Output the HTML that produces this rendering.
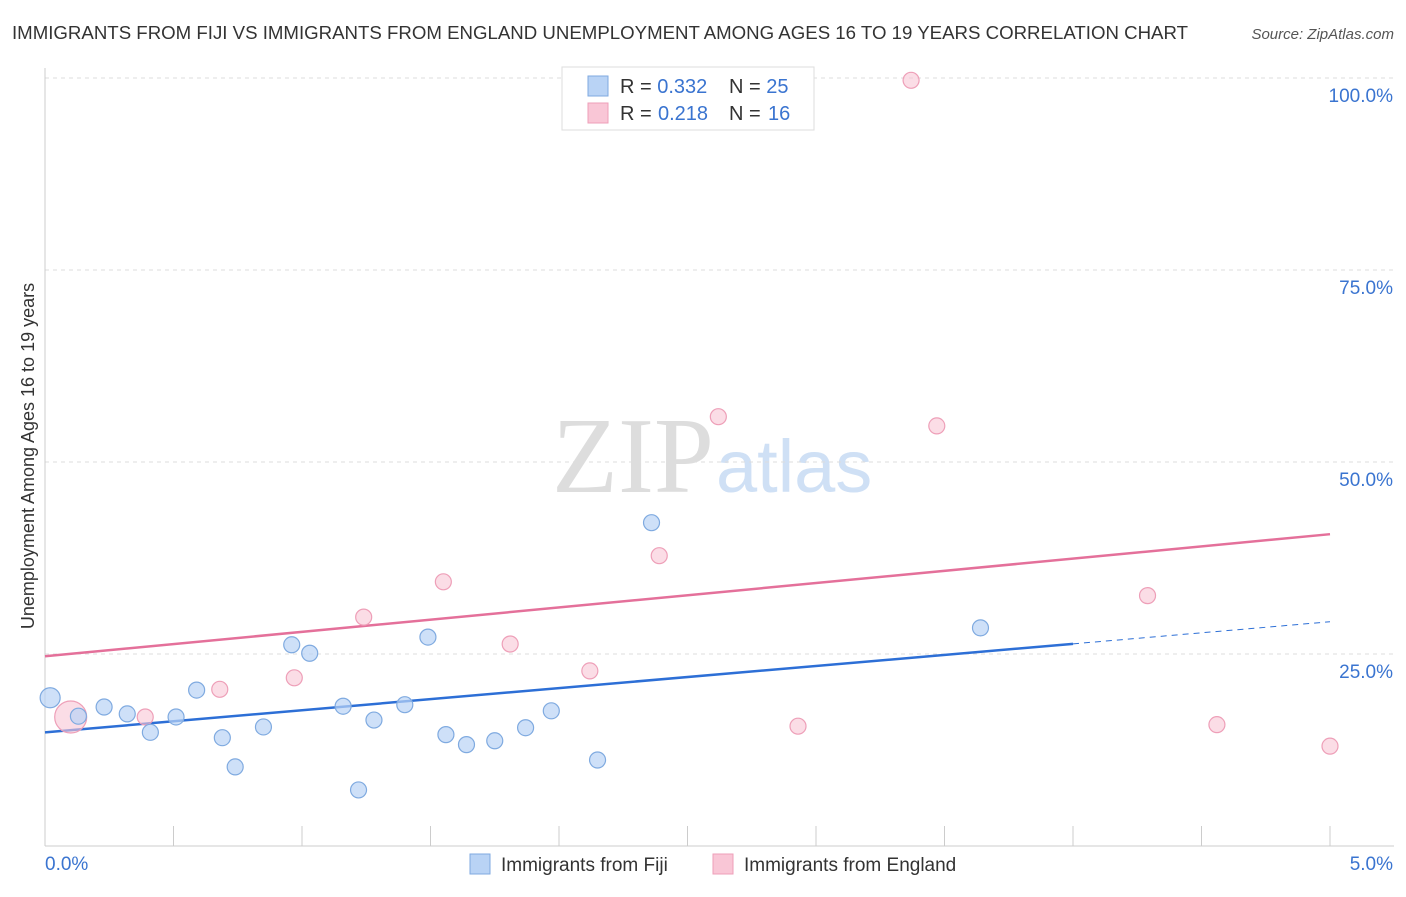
<!DOCTYPE html>
<html><head><meta charset="utf-8"><style>
body{margin:0;background:#fff;font-family:"Liberation Sans",sans-serif;}
svg text{font-family:"Liberation Sans",sans-serif;}
</style></head><body>
<svg id="chart" width="1406" height="892">
<text x="12" y="39" font-size="18" fill="#333" textLength="1176" lengthAdjust="spacingAndGlyphs">IMMIGRANTS FROM FIJI VS IMMIGRANTS FROM ENGLAND UNEMPLOYMENT AMONG AGES 16 TO 19 YEARS CORRELATION CHART</text>
<text x="1394" y="39" font-size="15" fill="#555" font-style="italic" text-anchor="end">Source: ZipAtlas.com</text>
<text x="714" y="492" font-size="108" fill="#ddd" text-anchor="end" style="font-family:'Liberation Serif',serif">ZIP</text>
<text x="716" y="492" font-size="74" fill="#cfe0f5">atlas</text>
<text transform="translate(34,456) rotate(-90)" font-size="18" fill="#333" text-anchor="middle">Unemployment Among Ages 16 to 19 years</text>
<g id="grid"></g><g id="axes"></g><g id="lines"></g><g id="pts"></g>
<g>
<rect x="562" y="67" width="252" height="63" fill="#fff" stroke="#ddd"/>
<rect x="588" y="76" width="20" height="20" fill="#b9d3f5" stroke="#7faae0"/>
<rect x="588" y="103" width="20" height="20" fill="#f9c6d6" stroke="#ee9fb8"/>
<text x="620" y="93" font-size="20" fill="#333">R = <tspan fill="#3a74d0">0.332</tspan><tspan x="729">N = </tspan><tspan fill="#3a74d0">25</tspan></text>
<text x="620" y="120" font-size="20" fill="#333">R = <tspan x="658" fill="#3a74d0">0.218</tspan><tspan x="729">N = </tspan><tspan x="768" fill="#3a74d0">16</tspan></text>
</g>
<g>
<rect x="470" y="854" width="20" height="20" fill="#b9d3f5" stroke="#7faae0"/>
<text x="501" y="871" font-size="19" fill="#333">Immigrants from Fiji</text>
<rect x="713" y="854" width="20" height="20" fill="#f9c6d6" stroke="#ee9fb8"/>
<text x="744" y="871" font-size="19" fill="#333">Immigrants from England</text>
</g>
</svg>
<script>
const fijiX=[0.02,0.13,0.23,0.32,0.41,0.51,0.59,0.69,0.74,0.85,0.96,1.03,1.16,1.22,1.28,1.40,1.49,1.56,1.64,1.75,1.87,1.97,2.15,2.36,3.64];
const fijiY=[19.3,16.9,18.1,17.2,14.8,16.8,20.3,14.1,10.3,15.5,26.2,25.1,18.2,7.3,16.4,18.4,27.2,14.5,13.2,13.7,15.4,17.6,11.2,42.1,28.4];
const engX=[0.10,0.39,0.68,0.97,1.24,1.55,1.81,2.12,2.39,2.62,2.93,3.37,3.47,4.29,4.56,5.0];
const engY=[16.8,16.8,20.4,21.9,29.8,34.4,26.3,22.8,37.8,55.9,15.6,99.7,54.7,32.6,15.8,13.0];
const yTicks=[25,50,75,100];
const yTickLabels=["25.0%","50.0%","75.0%","100.0%"];
const fijiTrend=[14.8,29.2]; const engTrend=[24.7,40.6];
const NS="http://www.w3.org/2000/svg";
const sx=v=>45+v*257, sy=v=>846-v*7.68;
function mk(g,t,a){const e=document.createElementNS(NS,t);for(const k in a)e.setAttribute(k,a[k]);document.getElementById(g).appendChild(e);return e;}
yTicks.forEach((t,i)=>{
 const l=mk('grid','line',{x1:45,x2:1394,y1:sy(t),y2:sy(t),stroke:'#ddd','stroke-dasharray':'4,4'});
 
 
 const tx=mk('grid','text',{x:1393,y:sy(t)+24,'font-size':19,fill:'#3a74d0','text-anchor':'end'});
 tx.textContent=yTickLabels[i];
 
 
});
mk('axes','line',{x1:45,x2:45,y1:68,y2:846,stroke:'#ccc'});
mk('axes','line',{x1:45,x2:1394,y1:846,y2:846,stroke:'#ccc'});
for(let i=0;i<=10;i++){const x=sx(i*0.5);const t=mk('axes','line',{x1:x,x2:x,y1:826,y2:846,stroke:'#ccc'});
 
 }
const a0=mk('axes','text',{x:45,y:870,'font-size':19,fill:'#3a74d0'});a0.textContent='0.0%';


const a1=mk('axes','text',{x:1393,y:870,'font-size':19,fill:'#3a74d0','text-anchor':'end'});a1.textContent='5.0%';


const fy=x=>fijiTrend[0]+(fijiTrend[1]-fijiTrend[0])*x/5;
let l1=mk('lines','line',{x1:sx(0),y1:sy(fy(0)),x2:sx(4),y2:sy(fy(4)),stroke:'#2d6fd6','stroke-width':2.5});


let l2=mk('lines','line',{x1:sx(4),y1:sy(fy(4)),x2:sx(5),y2:sy(fy(5)),stroke:'#2d6fd6','stroke-width':1,'stroke-dasharray':'6,5'});


let l3=mk('lines','line',{x1:sx(0),y1:sy(engTrend[0]),x2:sx(5),y2:sy(engTrend[1]),stroke:'#e4709a','stroke-width':2.5});


engX.forEach((x,i)=>{const c=mk('pts','circle',{cx:sx(x),cy:sy(engY[i]),r:i==0?16:8,fill:'#f9c6d6','fill-opacity':0.6,stroke:'#ee9fb8','stroke-width':1.2});
 
 });
fijiX.forEach((x,i)=>{const c=mk('pts','circle',{cx:sx(x),cy:sy(fijiY[i]),r:i==0?10:8,fill:'#b9d3f5','fill-opacity':0.7,stroke:'#7faae0','stroke-width':1.2});
 
 });
</script>
</body></html>
